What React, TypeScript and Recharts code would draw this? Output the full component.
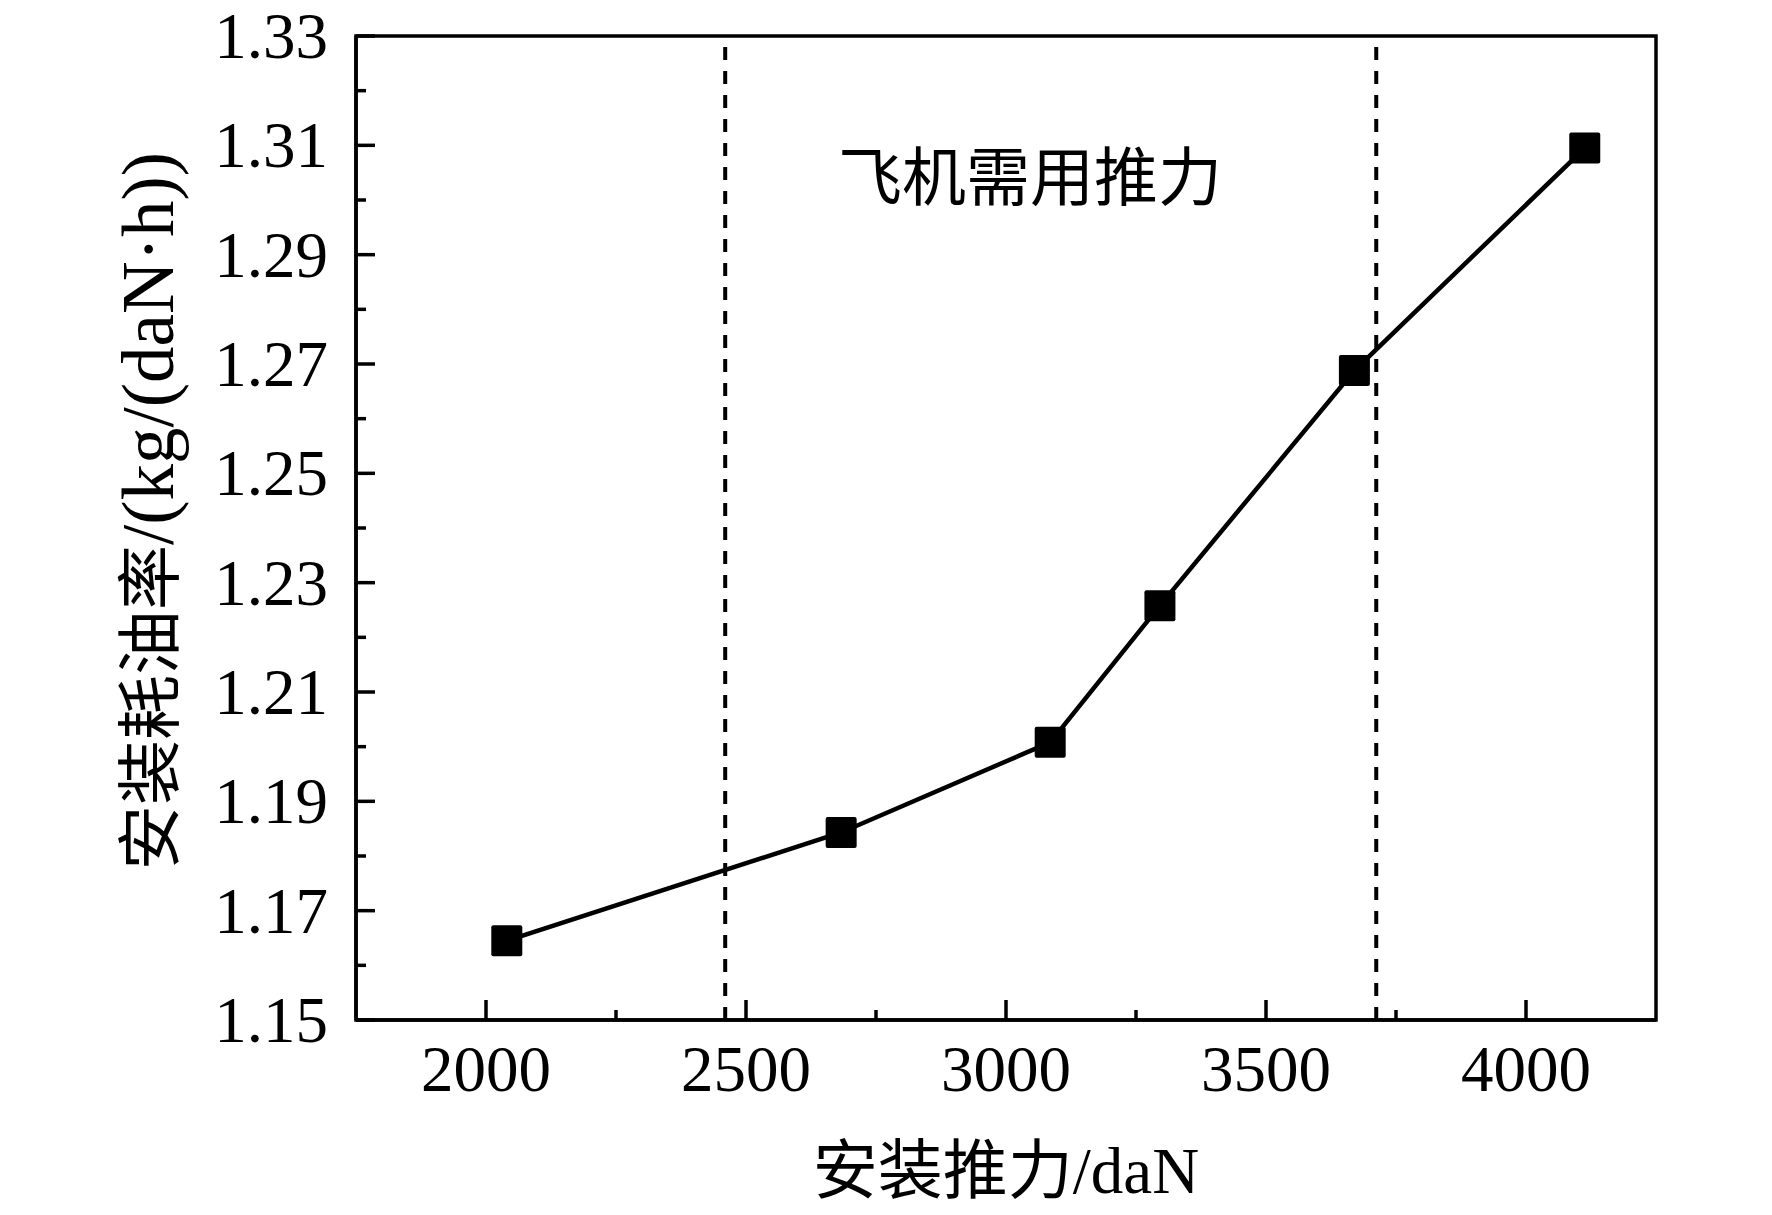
import React from 'react';
import { LineChart, Line, XAxis, YAxis, ReferenceLine, ReferenceArea, ReferenceDot } from 'recharts';

// installed thrust (daN) vs installed SFC (kg/(daN·h))
const thrust = [2040, 2683, 3085, 3296, 3670, 4113];
const sfc = [1.1645, 1.1843, 1.2008, 1.2258, 1.2688, 1.3095];

const xMajorTicks = [2000, 2500, 3000, 3500, 4000];
const xMinorTicks = [2250, 2750, 3250, 3750];
const yMajorTicks = [1.15, 1.17, 1.19, 1.21, 1.23, 1.25, 1.27, 1.29, 1.31, 1.33];
const yMinorTicks = [1.16, 1.18, 1.2, 1.22, 1.24, 1.26, 1.28, 1.3, 1.32];

// bounds of the aircraft thrust requirement band
const demandBounds = [2460, 3712];
const demandLabel = '飞机需用推力';

const xTitle = '安装推力/daN';
const yTitleCjk = '安装耗油率';
const yTitleUnit = '/(kg/(daN·h))';

const data = thrust.map((t, i) => ({ thrust: t, sfc: sfc[i] }));

const FONT = "'Liberation Serif', 'Noto Sans CJK SC', serif";
const INK = '#000';

const XTick = ({ x, y, payload }: any) => {
  const major = xMajorTicks.includes(payload.value);
  return (
    <g>
      <line x1={x} x2={x} y1={y} y2={y - (major ? 20 : 10)} stroke={INK} strokeWidth={3.5} />
      {major && (
        <text x={x} y={y + 71} textAnchor="middle" fontSize={65} fontFamily={FONT} fill={INK}>
          {payload.value}
        </text>
      )}
    </g>
  );
};

const YTick = ({ x, y, payload }: any) => {
  const major = Math.round(payload.value * 100) % 2 === 1;
  return (
    <g>
      <line x1={x} x2={x + (major ? 19 : 10)} y1={y} y2={y} stroke={INK} strokeWidth={3.5} />
      {major && (
        <text x={x - 28} y={y + 22} textAnchor="end" fontSize={65} fontFamily={FONT} fill={INK}>
          {payload.value.toFixed(2)}
        </text>
      )}
    </g>
  );
};

const XTitle = ({ viewBox }: any) => (
  <text
    x={viewBox.x + viewBox.width / 2}
    y={viewBox.y + 151}
    textAnchor="middle"
    dominantBaseline="central"
    fontSize={65}
    fontFamily={FONT}
    fill={INK}
  >
    {xTitle}
  </text>
);

const YTitle = ({ viewBox }: any) => {
  const cx = viewBox.x + 173;
  const cy = viewBox.y + viewBox.height / 2 - 17;
  return (
    <text
      transform={`translate(${cx},${cy}) rotate(-90)`}
      textAnchor="middle"
      fontSize={65}
      fontFamily={FONT}
      fill={INK}
    >
      <tspan>{yTitleCjk}</tspan>
      <tspan fontSize={73}>{yTitleUnit}</tspan>
    </text>
  );
};

const SquareDot = ({ cx, cy }: any) => (
  <rect x={cx - 15.5} y={cy - 15.5} width={31} height={31} rx={2} fill={INK} />
);

const DemandText = ({ viewBox }: any) => (
  <text
    x={viewBox.x}
    y={viewBox.y}
    textAnchor="middle"
    dominantBaseline="central"
    fontSize={64}
    fontFamily={FONT}
    fill={INK}
  >
    {demandLabel}
  </text>
);

export default function App() {
  return (
    <div style={{ width: 1772, height: 1215, background: '#fff' }}>
      <style>{'body{margin:0}'}</style>
      <LineChart width={1772} height={1215} data={data} margin={{ top: 36, right: 116, left: 0, bottom: 0 }}>
        <XAxis
          type="number"
          dataKey="thrust"
          domain={[1750, 4250]}
          allowDataOverflow
          ticks={[...xMajorTicks, ...xMinorTicks].sort((a, b) => a - b)}
          interval={0}
          tick={<XTick />}
          tickLine={false}
          tickSize={0}
          tickMargin={0}
          axisLine={{ stroke: INK, strokeWidth: 3.5 }}
          height={195}
          label={<XTitle />}
        />
        <YAxis
          type="number"
          dataKey="sfc"
          domain={[1.15, 1.33]}
          allowDataOverflow
          ticks={[...yMajorTicks, ...yMinorTicks].sort((a, b) => a - b)}
          interval={0}
          tick={<YTick />}
          tickLine={false}
          tickSize={0}
          tickMargin={0}
          axisLine={{ stroke: INK, strokeWidth: 3.5 }}
          width={356}
          label={<YTitle />}
        />
        <ReferenceArea
          x1={1750}
          x2={4250}
          y1={1.15}
          y2={1.33}
          fill="none"
          fillOpacity={0}
          stroke={INK}
          strokeWidth={3.5}
        />
        {demandBounds.map((b) => (
          <ReferenceLine key={b} x={b} stroke={INK} strokeWidth={4} strokeDasharray="13 11" />
        ))}
        <ReferenceDot x={3046} y={1.3039} r={0} fill="none" stroke="none" label={<DemandText />} />
        <Line
          type="linear"
          dataKey="sfc"
          stroke={INK}
          strokeWidth={4.5}
          dot={<SquareDot />}
          activeDot={false}
          isAnimationActive={false}
        />
      </LineChart>
    </div>
  );
}
